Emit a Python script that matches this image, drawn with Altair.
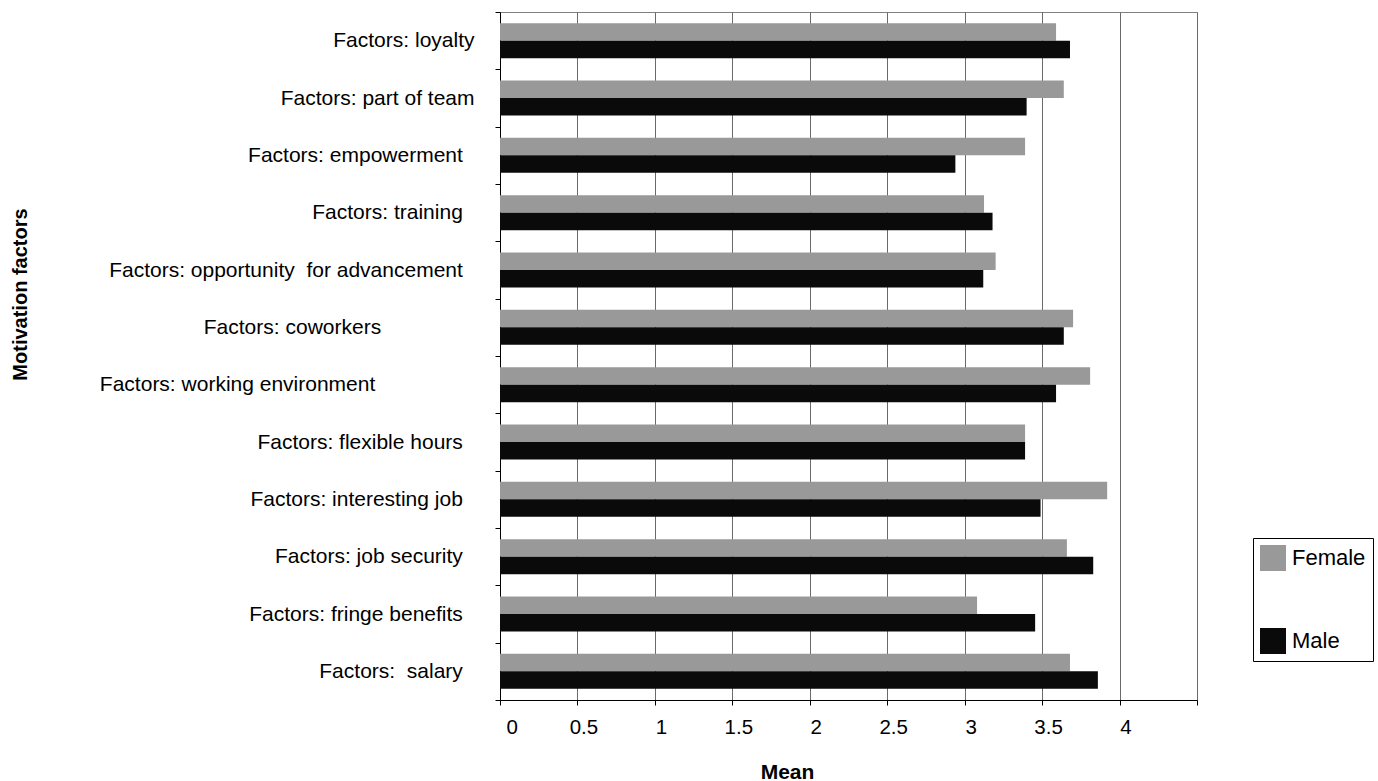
import altair as alt
import pandas as pd

NB = "\u00a0"
END = "\u200b"

# Category labels, top to bottom (trailing spaces as typed in the original sheet)
factors = [
    "Factors: loyalty",
    "Factors: part of team",
    "Factors: empowerment" + NB * 2 + END,
    "Factors: training" + NB * 2 + END,
    "Factors: opportunity " + NB + "for advancement" + NB * 2 + END,
    "Factors: coworkers" + NB * 16 + END,
    "Factors: working environment" + NB * 17 + END,
    "Factors: flexible hours" + NB * 2 + END,
    "Factors: interesting job" + NB * 2 + END,
    "Factors: job security" + NB * 2 + END,
    "Factors: fringe benefits" + NB * 2 + END,
    "Factors:" + NB + " salary" + NB * 2 + END,
]
female = [3.59, 3.64, 3.39, 3.125, 3.20, 3.70, 3.81, 3.39, 3.92, 3.66, 3.08, 3.68]
male = [3.68, 3.40, 2.94, 3.18, 3.12, 3.64, 3.59, 3.39, 3.49, 3.83, 3.455, 3.86]
genders = ["Female", "Male"]
x_ticks = [0, 0.5, 1, 1.5, 2, 2.5, 3, 3.5, 4, 4.5]

rows = []
for f, fv, mv in zip(factors, female, male):
    rows.append({"Factor": f, "Gender": "Female", "Mean": fv})
    rows.append({"Factor": f, "Gender": "Male", "Mean": mv})
df = pd.DataFrame(rows)

FONT = "Liberation Sans"

chart = (
    alt.Chart(df)
    .mark_bar(opacity=1)
    .encode(
        x=alt.X(
            "Mean:Q",
            scale=alt.Scale(domain=[0, 4.5], nice=False, zero=True),
            axis=alt.Axis(
                values=x_ticks,
                labelExpr="datum.value == 4.5 ? '' : format(datum.value, '~g')",
                title="Mean",
                titleX=287,
                titleY=72,
                titleAlign="center",
                titleBaseline="middle",
                titleFontSize=21,
                titleFontWeight="bold",
                labelFontSize=20.5,
                labelPadding=12,
                labelOffset=6,
                tickSize=5,
                grid=True,
                gridColor="#6a6a6a",
                gridWidth=1,
            ),
        ),
        y=alt.Y(
            "Factor:N",
            sort=factors,
            scale=alt.Scale(paddingInner=0, paddingOuter=0),
            axis=alt.Axis(
                title="Motivation factors",
                titleX=-480,
                titleY=282,
                titleAngle=-90,
                titleAlign="center",
                titleBaseline="middle",
                titleFontSize=20,
                titleFontWeight="bold",
                labelFontSize=21,
                labelPadding=21,
                labelLimit=1000,
                tickSize=5,
                tickBand="extent",
                grid=False,
            ),
        ),
        yOffset=alt.YOffset(
            "Gender:N",
            sort=genders,
            scale=alt.Scale(paddingInner=0, paddingOuter=0.64),
        ),
        color=alt.Color(
            "Gender:N",
            scale=alt.Scale(domain=genders, range=["#999999", "#0a0a0a"]),
            legend=alt.Legend(
                title=None,
                orient="none",
                legendX=753,
                legendY=526,
                strokeColor="black",
                padding=7,
                symbolType="square",
                symbolSize=676,
                symbolStrokeWidth=0,
                symbolOpacity=1,
                labelFontSize=22,
                labelFont=FONT,
                labelColor="black",
                labelOffset=6,
                rowPadding=57,
            ),
        ),
    )
    .properties(
        width=697,
        height=688,
        autosize=alt.AutoSizeParams(type="none"),
        padding={"left": 500, "top": 12, "right": 181, "bottom": 81},
        background="white",
    )
    .configure_view(stroke="#808080", strokeWidth=1)
    .configure_axis(
        labelFont=FONT,
        titleFont=FONT,
        labelColor="black",
        titleColor="black",
        domainColor="black",
        tickColor="black",
    )
)

chart.save("out.html", embed_options={"renderer": "svg", "actions": False})
